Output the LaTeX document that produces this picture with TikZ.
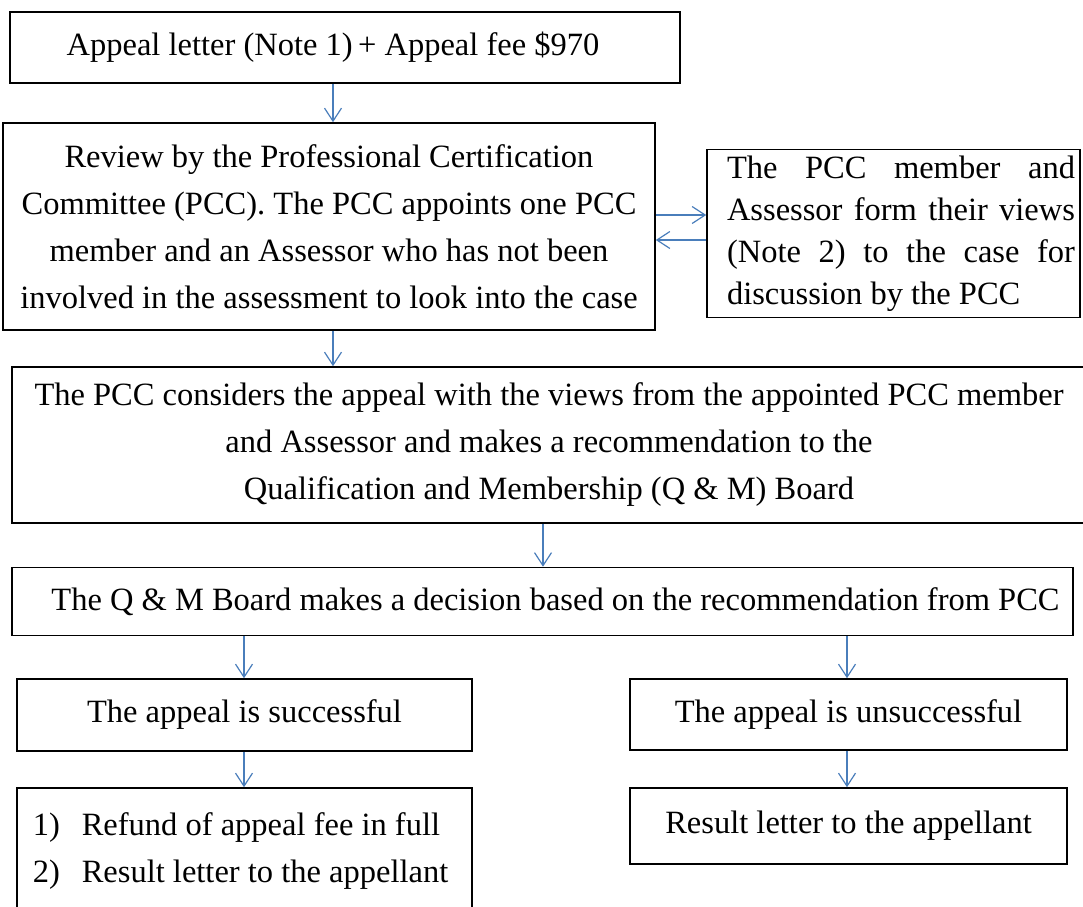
\documentclass[tikz,border=0pt]{standalone}
\usepackage{fontspec}
\setmainfont{Liberation Serif}
\usetikzlibrary{arrows.meta}
\definecolor{arrblue}{RGB}{74,126,187}
\newcommand{\jline}[1]{\makebox[348pt][s]{#1}}
\begin{document}
\begin{tikzpicture}[x=1pt,y=-1pt,
  box/.style={draw=black,line width=1.6pt,rectangle,inner sep=0pt,align=center,
    font=\fontsize{32.5}{47}\selectfont},
  arr/.style={draw=arrblue,line width=1.3pt,-{Straight Barb[length=13pt,width=17pt,line width=1.2pt]}}]
\clip (0,0) rectangle (1083,906);
\fill[white] (0,0) rectangle (1083,906);
\node[box,minimum width=670pt,minimum height=71pt] (b1) at (345,47.5)
  {Appeal letter (Note 1)\,+ Appeal fee \$970\hspace*{24pt}};
\node[box,minimum width=652pt,minimum height=207pt] (b2) at (329,226.5)
  {Review by the Professional Certification\\Committee (PCC). The PCC appoints one PCC\\member and an Assessor who has not been\\involved in the assessment to look into the case};
\node[box,minimum width=373pt,minimum height=167pt,
  font=\fontsize{32.5}{42}\selectfont] (b3) at (893.5,233.5)
  {\hspace*{15pt}\begin{tabular}{@{}l@{}}\jline{The PCC member and}\\\jline{Assessor form their views}\\\jline{(Note 2) to the case for}\\\makebox[348pt][l]{discussion by the PCC}\end{tabular}};
\node[box,minimum width=1074pt,minimum height=156pt] (b4) at (549,445)
  {The PCC considers the appeal with the views from the appointed PCC member\\and Assessor and makes a recommendation to the\\Qualification and Membership (Q \& M) Board};
\node[box,minimum width=1061pt,minimum height=68pt] (b5) at (542.5,601.5)
  {\hspace*{26pt}The Q \& M Board makes a decision based on the recommendation from PCC};
\node[box,minimum width=455pt,minimum height=72pt] (b6) at (244.5,715)
  {The appeal is successful};
\node[box,minimum width=437pt,minimum height=71pt] (b7) at (848.5,714.5)
  {The appeal is unsuccessful};
\node[box,minimum width=455pt,minimum height=124pt] (b8) at (244.5,850)
  {\begin{tabular}{@{}l@{\hspace{22pt}}l@{}}1)&Refund of appeal fee in full\\2)&Result letter to the appellant\end{tabular}\hspace*{8pt}};
\node[box,minimum width=437pt,minimum height=76pt] (b9) at (848.5,826)
  {Result letter to the appellant};
\coordinate (xa) at (333,0);
\coordinate (xb) at (543,0);
\coordinate (xl) at (244,0);
\coordinate (xr) at (847,0);
\coordinate (yr) at (0,215);
\coordinate (yl) at (0,240);
\draw[arr] (xa |- b1.south) -- (xa |- b2.north);
\draw[arr] (b2.east |- yr) -- (b3.west |- yr);
\draw[arr] (b3.west |- yl) -- (b2.east |- yl);
\draw[arr] (xa |- b2.south) -- (xa |- b4.north);
\draw[arr] (xb |- b4.south) -- (xb |- b5.north);
\draw[arr] (xl |- b5.south) -- (xl |- b6.north);
\draw[arr] (xr |- b5.south) -- (xr |- b7.north);
\draw[arr] (xl |- b6.south) -- (xl |- b8.north);
\draw[arr] (xr |- b7.south) -- (xr |- b9.north);
\end{tikzpicture}
\end{document}
